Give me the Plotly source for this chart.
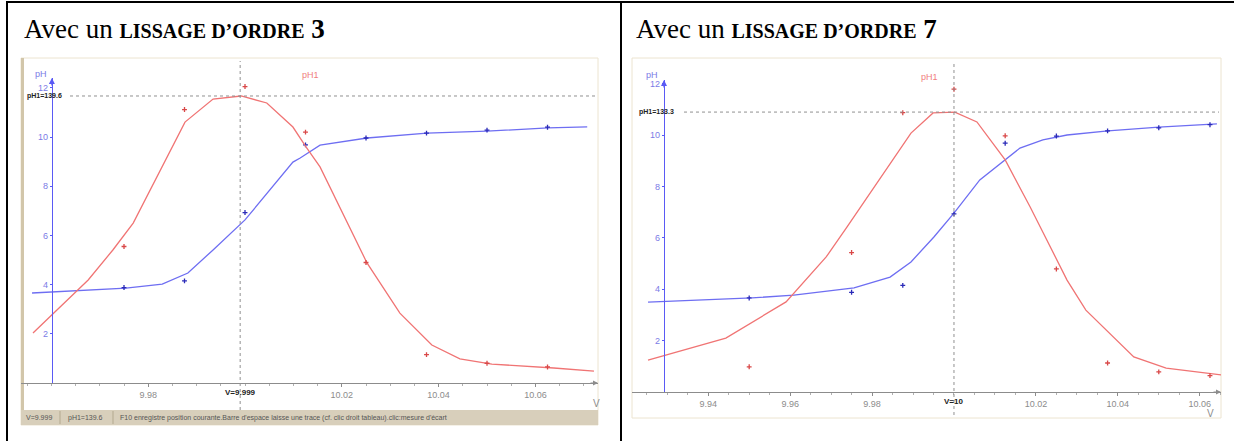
import plotly.graph_objects as go

W, H = 1234, 441

# ---- measured titration data (same acquisition in both panels) ----
V_DATA = [9.95, 9.975, 9.9875, 10.0, 10.0125, 10.025, 10.0375, 10.05, 10.0625]
PH_DATA = [3.66, 3.88, 4.15, 6.93, 9.68, 9.96, 10.16, 10.28, 10.40]
PH1_DATA = [12.0, 66.4, 133.0, 144.2, 122.0, 58.6, 13.8, 9.6, 7.8]

# ---- order-3 smoothing ----
V_S3_PH = [9.9560, 9.9754, 9.9829, 9.9882, 9.9934, 10.0, 10.0099, 10.0114,
           10.0155, 10.0252, 10.0376, 10.0500, 10.0626, 10.0707]
PH_S3 = [3.66, 3.86, 4.02, 4.47, 5.41, 6.63, 8.98, 9.15, 9.67, 9.96,
         10.16, 10.24, 10.37, 10.41]
V_S3_PH1 = [9.9562, 9.9651, 9.9676, 9.9727, 9.9769, 9.9876, 9.9934, 9.9992,
            10.0045, 10.0099, 10.0126, 10.0155, 10.0252, 10.0320, 10.0386,
            10.0444, 10.0510, 10.0638, 10.0721]
PH1_S3 = [24.3, 44.3, 50.1, 64.7, 77.8, 126.9, 138.1, 139.6, 136.2, 124.5,
          114.8, 105.1, 58.4, 34.0, 18.5, 11.7, 9.2, 7.3, 5.8]

# ---- order-7 smoothing ----
V_S7_PH = [9.9253, 9.9507, 9.9609, 9.9756, 9.9844, 9.9895, 9.9951, 10.0,
           10.0063, 10.0161, 10.0217, 10.0276, 10.0376, 10.0500, 10.0642]
PH_S7 = [3.50, 3.66, 3.77, 4.05, 4.47, 5.06, 6.03, 6.96, 8.25, 9.49, 9.81,
         10.0, 10.16, 10.31, 10.43]
V_S7_PH1 = [9.9253, 9.9443, 9.9590, 9.9688, 9.9739, 9.9822, 9.9895, 9.9949,
            10.0002, 10.0056, 10.0125, 10.0186, 10.0276, 10.0322, 10.0439,
            10.0518, 10.0654]
PH1_S7 = [15.2, 25.7, 42.9, 64.3, 78.6, 102.4, 123.3, 132.9, 133.3, 128.6,
          110.5, 88.1, 53.3, 39.0, 16.7, 11.4, 8.1]

ORDERS = ["3", "7"]
CURSOR_V = [9.999, 10.0]
CURSOR_TEXT = ["V=9.999", "V=10"]
PH1_MAX = [139.6, 133.3]
X_TICKS = [[9.98, 10.02, 10.04, 10.06], [9.94, 9.96, 9.98, 10.02, 10.04, 10.06]]
Y_TICKS = [2, 4, 6, 8, 10, 12]
STATUS = ["V=9.999", "pH1=139.6",
          "F10 enregistre position courante.Barre d'espace laisse une trace "
          "(cf. clic droit tableau).clic:mesure d'écart"]

BLUE_LINE = "#6e6ef2"
BLUE_PT = "#2a2ab8"
BLUE_AXIS = "#5a5af5"
BLUE_TXT = "#7b7be6"
RED_LINE = "#f07474"
RED_PT = "#d94848"
GREY = "#8c8c8c"


def px(x):
    return x / W


def py(y):
    return 1 - y / H


# panel geometry (pixels)
PANELS = [
    dict(frame=(21, 58, 598, 425), xdom=(21, 598), xrange=(9.95372, 10.07293),
         ydom=(383, 78), phr=12.4, ph1r=148.35, axis_v=9.9601, status=True,
         title_x=22, ph_lbl=(33, 67), ph1_lbl=(300, 68), v_lbl=(596, 403),
         max_lbl_x=25, dot_x0=70),
    dict(frame=(632, 58, 1221, 418), xdom=(632, 1221), xrange=(9.92139, 10.06519),
         ydom=(392, 80), phr=12.14, ph1r=148.57, axis_v=9.9292, status=False,
         title_x=634, ph_lbl=(652, 68), ph1_lbl=(940, 70), v_lbl=(1216, 413),
         max_lbl_x=637, dot_x0=684),
]

SERIES = [(V_S3_PH, PH_S3, V_S3_PH1, PH1_S3), (V_S7_PH, PH_S7, V_S7_PH1, PH1_S7)]

fig = go.Figure()
shapes = []
annotations = []
layout = {}

# table rules
shapes += [
    dict(type="line", xref="paper", yref="paper", x0=px(6), x1=1, y0=py(2), y1=py(2),
         line=dict(color="black", width=2)),
    dict(type="line", xref="paper", yref="paper", x0=px(7), x1=px(7), y0=py(1), y1=0,
         line=dict(color="black", width=2)),
    dict(type="line", xref="paper", yref="paper", x0=px(621), x1=px(621), y0=py(1), y1=0,
         line=dict(color="black", width=2)),
]

for i, p in enumerate(PANELS):
    xa = "x" if i == 0 else "x2"
    ya = "y" if i == 0 else "y3"
    ya2 = "y2" if i == 0 else "y4"
    xkey = "xaxis" if i == 0 else "xaxis2"
    ykey = "yaxis" if i == 0 else "yaxis3"
    y2key = "yaxis2" if i == 0 else "yaxis4"
    vs_ph, ph_s, vs_ph1, ph1_s = SERIES[i]
    fx0, fy0, fx1, fy1 = p["frame"]

    # window frame
    shapes.append(dict(type="rect", xref="paper", yref="paper", layer="below",
                       x0=px(fx0), x1=px(fx1), y0=py(fy1), y1=py(fy0),
                       fillcolor="white", line=dict(color="#ece4d0", width=1)))
    if p["status"]:
        shapes.append(dict(type="rect", xref="paper", yref="paper", layer="below",
                           x0=px(fx0), x1=px(fx0 + 3), y0=py(fy1), y1=py(fy0),
                           fillcolor="#d2c6aa", line=dict(width=0)))
        shapes.append(dict(type="rect", xref="paper", yref="paper", layer="below",
                           x0=px(fx0), x1=px(fx1), y0=py(fy1), y1=py(fy1 - 15),
                           fillcolor="#d8cfbb", line=dict(width=0)))
        for sx in (60, 113):
            shapes.append(dict(type="line", xref="paper", yref="paper",
                               x0=px(sx), x1=px(sx), y0=py(fy1 - 1), y1=py(fy1 - 14),
                               line=dict(color="#b3a98f", width=1)))
        for txt, sx in zip(STATUS, (24, 66, 118)):
            annotations.append(dict(text=txt, xref="paper", yref="paper", x=px(sx),
                                    y=py(fy1 - 7.5), xanchor="left", yanchor="middle",
                                    showarrow=False,
                                    font=dict(family="Liberation Sans", size=7,
                                              color="#555555")))

    # title
    annotations.append(dict(
        text="Avec un <b><span style='font-size:20px'>LISSAGE D’ORDRE</span> "
             + ORDERS[i] + "</b>",
        xref="paper", yref="paper", x=px(p["title_x"]), y=py(29),
        xanchor="left", yanchor="middle", showarrow=False,
        font=dict(family="Liberation Serif", size=27, color="black")))

    layout[xkey] = dict(domain=[px(p["xdom"][0]), px(p["xdom"][1])],
                        range=list(p["xrange"]), anchor=ya, showgrid=False,
                        zeroline=False, showline=True, linecolor=GREY, linewidth=1,
                        tickvals=X_TICKS[i], tickformat=".2f", ticks="outside",
                        ticklen=3, tickcolor=GREY,
                        minor=dict(dtick=0.005, ticks="outside", ticklen=2,
                                   tickcolor="#b0b0b0"),
                        tickfont=dict(family="Liberation Sans", size=9, color=GREY))
    axis_pos = px(p["xdom"][0] + (p["axis_v"] - p["xrange"][0])
                  * (p["xdom"][1] - p["xdom"][0]) / (p["xrange"][1] - p["xrange"][0]))
    layout[ykey] = dict(domain=[py(p["ydom"][0]), py(p["ydom"][1])],
                        range=[0, p["phr"]], anchor="free", position=axis_pos,
                        showgrid=False, zeroline=False, showline=True,
                        linecolor=BLUE_AXIS, linewidth=1.3, tickvals=Y_TICKS,
                        ticks="outside", ticklen=2, tickcolor=BLUE_AXIS,
                        tickfont=dict(family="Liberation Sans", size=9, color=BLUE_TXT))
    layout[y2key] = dict(domain=[py(p["ydom"][0]), py(p["ydom"][1])],
                         range=[0, p["ph1r"]], overlaying=ya, visible=False,
                         anchor=xa)

    # cursor lines
    shapes.append(dict(type="line", xref=xa, yref="paper", x0=CURSOR_V[i],
                       x1=CURSOR_V[i], y0=py(fy1 - (15 if p["status"] else 3)),
                       y1=py(fy0 + 3), line=dict(color="#909090", width=1, dash="dot")))
    shapes.append(dict(type="line", xref="paper", yref=ya2, x0=px(p["dot_x0"]),
                       x1=px(fx1 - 2), y0=PH1_MAX[i], y1=PH1_MAX[i],
                       line=dict(color="#909090", width=1, dash="dot")))
    annotations.append(dict(text="<b>pH1=%g</b>" % PH1_MAX[i], xref="paper", yref=ya2,
                            x=px(p["max_lbl_x"]), y=PH1_MAX[i], xanchor="left",
                            yanchor="middle", showarrow=False,
                            font=dict(family="Liberation Sans", size=7, color="#222222")))
    annotations.append(dict(text="<b>%s</b>" % CURSOR_TEXT[i], xref=xa, yref=ya,
                            x=CURSOR_V[i], y=0, yshift=-9, yanchor="middle",
                            xanchor="center", showarrow=False,
                            font=dict(family="Liberation Sans", size=8, color="#222222")))

    # axis arrows
    annotations.append(dict(text="", xref=xa, yref=ya, x=p["xrange"][1], y=0,
                            ax=-9, ay=0, showarrow=True, arrowhead=2, arrowsize=1,
                            arrowwidth=1, arrowcolor=GREY))
    annotations.append(dict(text="", xref=xa, yref=ya, x=p["axis_v"], y=p["phr"],
                            ax=0, ay=9, showarrow=True, arrowhead=2, arrowsize=1,
                            arrowwidth=1.2, arrowcolor=BLUE_AXIS))

    # axis names
    annotations.append(dict(text="pH", xref="paper", yref="paper", x=px(p["ph_lbl"][0]),
                            y=py(p["ph_lbl"][1]), showarrow=False,
                            font=dict(family="Liberation Sans", size=9, color=BLUE_TXT)))
    annotations.append(dict(text="pH1", xref="paper", yref="paper", x=px(p["ph1_lbl"][0]),
                            y=py(p["ph1_lbl"][1]), showarrow=False,
                            font=dict(family="Liberation Sans", size=9, color="#f08080")))
    annotations.append(dict(text="V", xref="paper", yref="paper", x=px(p["v_lbl"][0]),
                            y=py(p["v_lbl"][1]), yanchor="middle", showarrow=False,
                            font=dict(family="Liberation Sans", size=10, color=GREY)))

    # curves and points
    fig.add_trace(go.Scatter(x=vs_ph, y=ph_s, xaxis=xa, yaxis=ya, mode="lines",
                             line=dict(color=BLUE_LINE, width=1.3), showlegend=False))
    fig.add_trace(go.Scatter(x=vs_ph1, y=ph1_s, xaxis=xa, yaxis=ya2, mode="lines",
                             line=dict(color=RED_LINE, width=1.3), showlegend=False))
    fig.add_trace(go.Scatter(x=V_DATA, y=PH_DATA, xaxis=xa, yaxis=ya, mode="markers",
                             marker=dict(symbol="cross-thin", size=3.5,
                                         line=dict(color=BLUE_PT, width=1.3)),
                             showlegend=False))
    fig.add_trace(go.Scatter(x=V_DATA, y=PH1_DATA, xaxis=xa, yaxis=ya2, mode="markers",
                             marker=dict(symbol="cross-thin", size=3.5,
                                         line=dict(color=RED_PT, width=1.3)),
                             showlegend=False))

fig.update_layout(width=W, height=H, margin=dict(l=0, r=0, t=0, b=0),
                  paper_bgcolor="white", plot_bgcolor="rgba(0,0,0,0)",
                  shapes=shapes, annotations=annotations, **layout)

fig.write_html("out.html")
